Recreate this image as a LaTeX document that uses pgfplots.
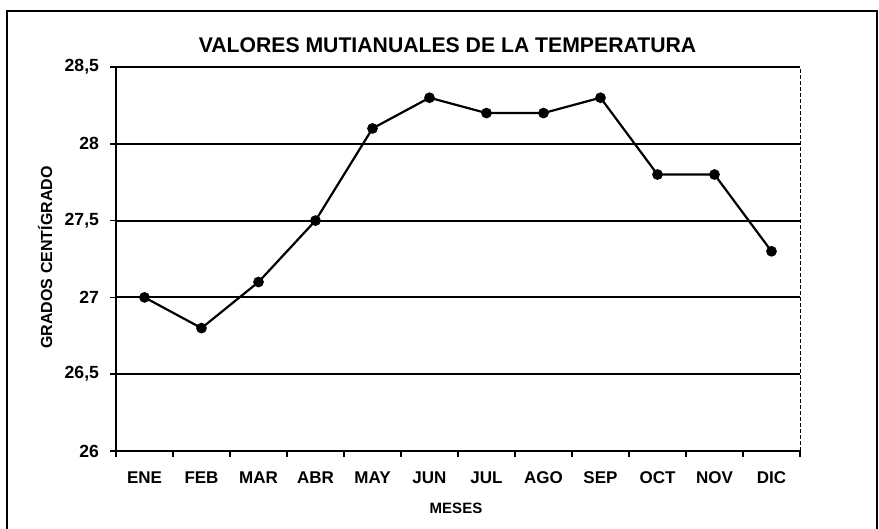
\documentclass[border=0pt]{standalone}
\usepackage{pgfplots}
\pgfplotsset{compat=1.18}
\usepackage{fontspec}
\setmainfont{Liberation Sans}
\begin{document}
\begin{tikzpicture}
\path[use as bounding box] (0,0) rectangle (439.5pt,264.5pt);
\draw[line width=1pt] (3.5pt,0) -- (3.5pt,259pt) -- (438.5pt,259pt) -- (438.5pt,0);
\begin{axis}[
  at={(58pt,39pt)}, anchor=south west,
  scale only axis, width=342pt, height=192pt,
  xmin=-0.5, xmax=11.5, ymin=26, ymax=28.5,
  axis x line*=bottom, axis y line*=left,
  axis line style={line width=1.1pt, -},
  xtick={0,...,11},
  xticklabels={ENE,FEB,MAR,ABR,MAY,JUN,JUL,AGO,SEP,OCT,NOV,DIC},
  major x tick style={draw=none},
  minor xtick={-0.5,0.5,...,11.5},
  minor x tick style={line width=0.8pt, black},
  minor tick length=3pt,
  tick align=outside,
  ytick={26,26.5,...,28.5},
  major tick length=3pt,
  major y tick style={line width=0.8pt, black},
  ymajorgrids, grid style={line width=1pt, black},
  /pgf/number format/assume math mode=true,
  /pgf/number format/use comma, /pgf/number format/fixed, /pgf/number format/precision=1,
  yticklabel style={font=\fontsize{8.8}{10}\selectfont\bfseries, xshift=-2pt},
  xticklabel style={font=\fontsize{8.5}{10}\selectfont\bfseries, yshift=-4pt},
  clip=false,
]
\addplot[black, line width=1.1pt, mark=*, mark size=2.1pt] coordinates {
(0,27.0) (1,26.8) (2,27.1) (3,27.5) (4,28.1) (5,28.3)
(6,28.2) (7,28.2) (8,28.3) (9,27.8) (10,27.8) (11,27.3)};
\draw[line width=0.5pt, dash pattern=on 2pt off 1pt] (rel axis cs:1,0) -- (rel axis cs:1,1);
\end{axis}
\node[font=\fontsize{10.6}{12}\selectfont\bfseries] at (223.75pt,242pt) {VALORES MUTIANUALES DE LA TEMPERATURA};
\node[font=\fontsize{8}{9}\selectfont\bfseries, rotate=90] at (22.5pt,135.75pt) {GRADOS CENTÍGRADO};
\node[font=\fontsize{7.5}{9}\selectfont\bfseries] at (228pt,10.5pt) {MESES};
\end{tikzpicture}
\end{document}
